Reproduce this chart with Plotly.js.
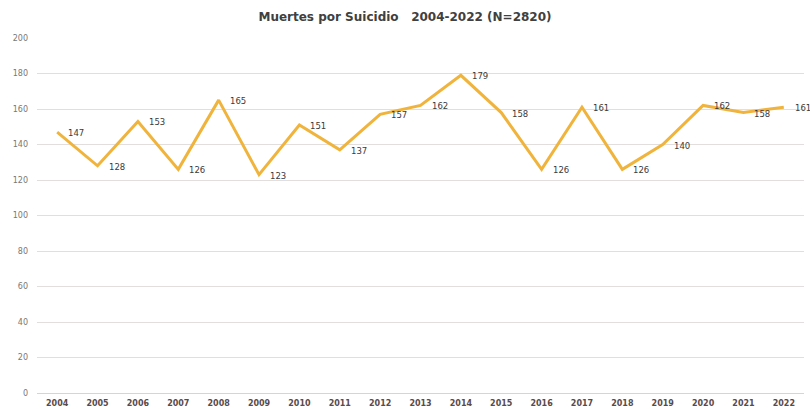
<!DOCTYPE html>
<html><head><meta charset="utf-8">
<script src="https://cdn.plot.ly/plotly-3.0.1.min.js"></script>
<style>html,body{margin:0;padding:0;background:#fff}#c{width:810px;height:409px}</style>
</head><body><div id="c"></div>
<script>
const years = ['2004','2005','2006','2007','2008','2009','2010','2011','2012','2013','2014','2015','2016','2017','2018','2019','2020','2021','2022'];
const deaths = [147,128,153,126,165,123,151,137,157,162,179,158,126,161,126,140,162,158,161];
const yTicks = [0,20,40,60,80,100,120,140,160,180,200];

// category axis: annotations use the category serial number
const labels = years.map((yr, i) => ({
  x: years.indexOf(yr), y: deaths[i], text: String(deaths[i]), showarrow: false,
  xref: 'x', yref: 'y',
  xanchor: 'center', yanchor: 'middle', xshift: 19, yshift: -1,
  font: {family: 'DejaVu Sans', size: 8.5, color: '#3a3a3a'}
}));

Plotly.newPlot('c', [{
  x: years, y: deaths, type: 'scatter', mode: 'lines',
  line: {color: '#F0B43C', width: 3},
  hoverinfo: 'skip'
}], {
  width: 810, height: 409,
  margin: {l: 37, r: 6, t: 38, b: 16},
  paper_bgcolor: '#fff', plot_bgcolor: '#fff',
  title: {text: '<b>Muertes por Suicidio   2004-2022 (N=2820)</b>', x: 0.5, xanchor: 'center', y: 0.958, yanchor: 'middle',
    font: {family: 'DejaVu Sans', size: 12, color: '#404040'}},
  showlegend: false,
  annotations: labels,
  xaxis: {type: 'category', range: [-0.5, 18.5], showgrid: false, showline: false, zeroline: false,
    ticks: '', tickfont: {family: 'DejaVu Sans', size: 8, color: '#5a4a4a', weight: 'bold'}, ticklabelstandoff: 4},
  yaxis: {range: [0, 200], tickvals: yTicks, showgrid: true, gridcolor: '#e2dede', gridwidth: 1,
    zeroline: true, zerolinecolor: '#d9d4d4', showline: false, ticks: '',
    tickfont: {family: 'DejaVu Sans', size: 8, color: '#777'}, ticklabelstandoff: 8}
}, {displayModeBar: false, staticPlot: true});
</script></body></html>
